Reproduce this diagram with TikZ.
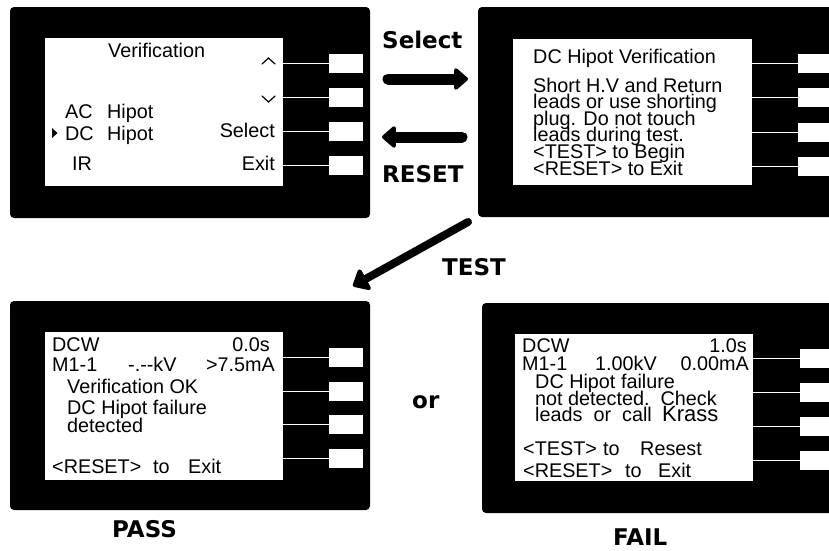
\documentclass[tikz,border=0pt]{standalone}
\usepackage{fontspec}
\newfontfamily\lcdfont{Liberation Sans}
\newfontfamily\tagfont{DejaVu Sans}
\usetikzlibrary{arrows.meta, calc}

\begin{document}
\begin{tikzpicture}[
        x=1pt, y=-1pt,
        frame/.style={
            fill=black, rounded corners=4pt,
            anchor=north west, inner sep=0pt, outer sep=0pt
        },
        screen/.style={
            fill=white,
            anchor=north west, inner sep=0pt, outer sep=0pt
        },
        key/.style={
            fill=white,
            anchor=north west, inner sep=0pt, outer sep=0pt,
            minimum width=34pt, minimum height=19pt
        },
        wire/.style={draw=white, line width=1.6pt},
        lcd/.style={
            font=\lcdfont\fontsize{19.8}{19.8}\selectfont,
            inner sep=0pt, anchor=base west
        },
        lcdr/.style={lcd, anchor=base east},
        tag/.style={
            font=\tagfont\bfseries\fontsize{23}{23}\selectfont,
            inner sep=0pt, anchor=base west
        },
        chev/.style={line width=1.2pt, line cap=round},
        bigarrow/.style={
            line width=11pt, line cap=round,
            -{Triangle[round, length=15pt, width=25pt]}
        },
    ]

    \useasboundingbox (0,0) rectangle (829,550);
    \fill[white] (0,0) rectangle (829,550);
    \clip (0,0) rectangle (829,550);

    %============================================================
    % Panels: frame + screen
    %============================================================
    \node[frame, minimum width=360pt, minimum height=211pt] (frmA) at (10,7) {};
    \node[screen, minimum width=238pt, minimum height=148pt] (scrA) at (45,38) {};

    \node[frame, minimum width=382pt, minimum height=210pt] (frmB) at (478,7) {};
    \node[screen, minimum width=239pt, minimum height=146pt] (scrB) at (513,39) {};

    \node[frame, minimum width=360pt, minimum height=209pt] (frmC) at (10,301) {};
    \node[screen, minimum width=238pt, minimum height=148pt] (scrC) at (45,332) {};

    \node[frame, minimum width=380pt, minimum height=210pt] (frmD) at (482,303) {};
    \node[screen, minimum width=238pt, minimum height=147pt] (scrD) at (515,334) {};

    % Soft keys and their wires to the screen
    \foreach \pn/\kx/\ka/\kb/\kc/\kd in {A/329/54/88/122/156, B/798/54/88/123/157,
                                       C/329/348/382/415/449, D/800/349/383/417/451}{
        \foreach \ky [count=\i] in {\ka,\kb,\kc,\kd}{
            \node[key] (key\pn\i) at (\kx,\ky) {};
            \draw[wire] (scr\pn.east |- key\pn\i.west) -- (key\pn\i.west);
        }
    }

    %============================================================
    % Screen A: menu
    %============================================================
    \node[lcd] (hdA) at (108,57) {Verification};
    \draw[chev] (262,64) -- (268.5,58) -- (275,64);
    \draw[chev] (262,96) -- (268.5,102) -- (275,96);
    \node[lcd] (acA) at (65,118) {AC};
    \node[lcd] (achA) at (107,118) {Hipot};
    \node[lcd] (dcA) at (65,140) {DC};
    \node[lcd] (dchA) at (107,140) {Hipot};
    \fill (52,128) -- (57.5,133) -- (52,138) -- cycle;
    \node[lcd] (irA) at (72,170) {IR};
    \node[lcdr] (selA) at (275,137) {Select};
    \node[lcdr] (exA) at (275,170) {Exit};

    %============================================================
    % Screen B: instructions
    %============================================================
    \node[lcd] (hdB) at (533,63) {DC Hipot Verification};
    \foreach \txt [count=\i] in {Short H.V and Return, leads or use shorting,
                                 plug. Do not touch, leads during test.,
                                 <TEST> to Begin, <RESET> to Exit}{
        \node[lcd] (lnB\i) at (533,75.4+16.6*\i) {\txt};
    }

    %============================================================
    % Screen C: pass
    %============================================================
    \node[lcd] (dcwC) at (52,351) {DCW};
    \node[lcdr] (tmC) at (270,351) {0.0s};
    \node[lcd] (mC) at (52,371) {M1-1};
    \node[lcd] (kvC) at (128,371) {-.-{}-kV};
    \node[lcdr] (maC) at (275,371) {>7.5mA};
    \node[lcd] (okC) at (67,393) {Verification OK};
    \node[lcd] (f1C) at (67,414) {DC Hipot failure};
    \node[lcd] (f2C) at (67,432) {detected};
    \node[lcd] (rsC) at (52,473) {<RESET>};
    \node[lcd] (toC) at (153,473) {to};
    \node[lcd] (exC) at (188,473) {Exit};

    %============================================================
    % Screen D: fail
    %============================================================
    \node[lcd] (dcwD) at (522,352) {DCW};
    \node[lcdr] (tmD) at (747,352) {1.0s};
    \node[lcd] (mD) at (522,370) {M1-1};
    \node[lcd] (kvD) at (595,370) {1.00kV};
    \node[lcdr] (maD) at (749,370) {0.00mA};
    \node[lcd] (f1D) at (535,388) {DC Hipot failure};
    \node[lcd] (f2D) at (535,405) {not detected.~~Check};
    \node[lcd] (f3D) at (535,421) {leads~~or~~call};
    \node[lcd, font=\lcdfont\fontsize{22}{22}\selectfont] (krD) at (662,421) {Krass};
    \node[lcd] (tsD) at (523,455) {<TEST>};
    \node[lcd] (toD1) at (603,455) {to};
    \node[lcd] (rsD) at (640,455) {Resest};
    \node[lcd] (rxD) at (523,477) {<RESET>};
    \node[lcd] (toD2) at (625,477) {to};
    \node[lcd] (exD) at (658,477) {Exit};

    %============================================================
    % Transitions
    %============================================================
    \node[tag] (lblSel) at (382,48) {Select};
    \coordinate (selT) at (388,79);
    \coordinate (selH) at (468,79);
    \draw[bigarrow] (selT) -- (selH);

    \coordinate (rstT) at (462,137);
    \coordinate (rstH) at (382,137);
    \draw[bigarrow] (rstT) -- (rstH);
    \node[tag] (lblRst) at (382,182) {RESET};

    \coordinate (tstT) at (468,222);
    \coordinate (tstH) at (353,286);
    \draw[bigarrow, line width=8pt, -{Triangle[round, length=16pt, width=27pt]}] (tstT) -- (tstH);
    \node[tag] (lblTst) at (442,275) {TEST};

    \node[tag] (lblOr) at (412,408) {or};
    \node[tag] (lblPass) at (112,537) {PASS};
    \node[tag] (lblFail) at (613,545) {FAIL};

\end{tikzpicture}
\end{document}
